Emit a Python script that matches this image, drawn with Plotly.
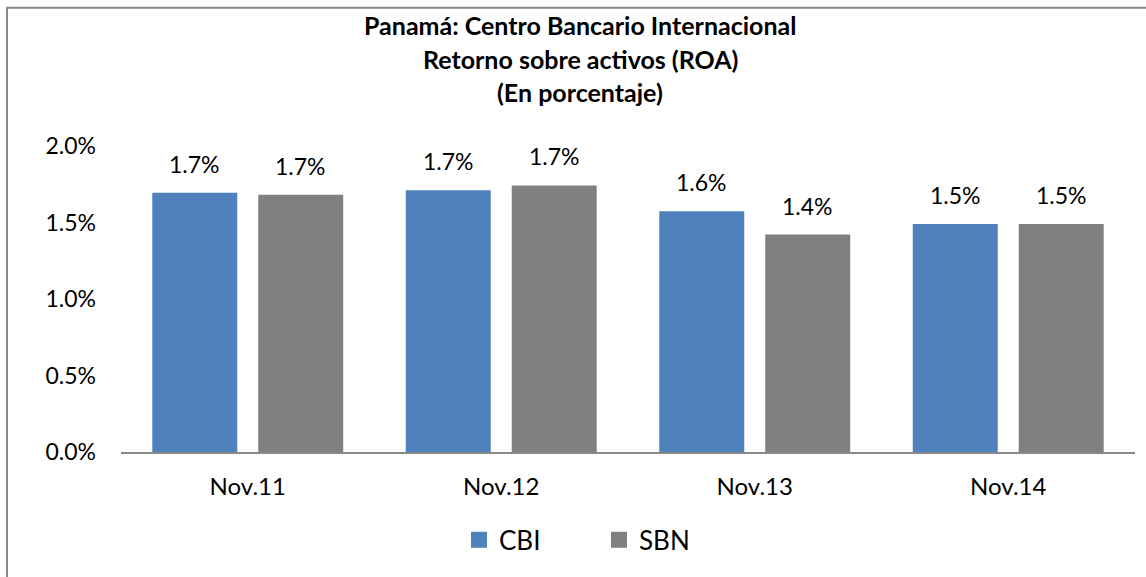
import plotly.graph_objects as go

categories = ["Nov.11", "Nov.12", "Nov.13", "Nov.14"]
cbi = [0.01695, 0.01710, 0.01574, 0.01490]
sbn = [0.01681, 0.01742, 0.01421, 0.01490]
series_names = ["CBI", "SBN"]
colors = ["#4F81BD", "#808080"]
y_ticks = [0, 0.005, 0.010, 0.015, 0.020]
title_lines = ["Panamá: Centro Bancario Internacional",
               "Retorno sobre activos (ROA)",
               "(En porcentaje)"]

FONT = "Lato, 'Open Sans', sans-serif"
W, H = 1146, 577
L, R, T, B = 121, 11, 145.5, 125
plot_h = H - T - B
plot_w = W - L - R


def py(p):
    """pixel row -> paper y"""
    return (H - B - p) / plot_h


def px(p):
    """pixel column -> paper x"""
    return (p - L) / plot_w


fig = go.Figure()
for name, vals, col in zip(series_names, [cbi, sbn], colors):
    fig.add_trace(go.Bar(
        x=categories, y=vals, name=name, showlegend=False,
        marker=dict(color=col, line=dict(width=0)),
    ))
# legend swatches (larger squares, as in the reference)
for name, col in zip(series_names, colors):
    fig.add_trace(go.Scatter(
        x=[None], y=[None], name=name, mode="markers",
        marker=dict(symbol="square", size=18, color=col),
    ))

annotations = []
for k, vals in enumerate([cbi, sbn]):
    shift = -53 if k == 0 else 53
    for c, v in zip(categories, vals):
        annotations.append(dict(
            x=c, y=v, xref="x", yref="y", text=f"{v*100:.1f}%",
            showarrow=False, xshift=shift, yanchor="bottom", yshift=13,
            font=dict(family=FONT, size=23, color="#000000"),
        ))

title_px = [24, 58, 91]
for line, p in zip(title_lines, title_px):
    annotations.append(dict(
        x=px(580), y=py(p),
        xref="paper", yref="paper", text=f"<b>{line}</b>",
        showarrow=False, xanchor="center", yanchor="middle",
        font=dict(family=FONT, size=25, color="#000000"),
    ))

fig.update_layout(
    width=W, height=H,
    margin=dict(l=L, r=R, t=T, b=B, autoexpand=False),
    paper_bgcolor="white", plot_bgcolor="white",
    barmode="group", bargap=0.164, bargroupgap=0.198,
    font=dict(family=FONT, size=23, color="#000000"),
    showlegend=True,
    legend=dict(orientation="h", xanchor="center", yanchor="middle",
                x=px(599), y=py(540), itemsizing="trace",
                font=dict(family=FONT, size=26, color="#000000"),
                entrywidth=95, entrywidthmode="pixels",
                bgcolor="rgba(0,0,0,0)"),
    annotations=annotations,
    shapes=[dict(type="rect", xref="paper", yref="paper",
                 x0=px(7), x1=px(W + 20),
                 y0=py(H + 20), y1=py(7),
                 line=dict(color="#888888", width=2), layer="below")],
)

fig.update_xaxes(
    showline=True, linecolor="#888888", linewidth=2,
    showgrid=False, ticks="", ticklabelstandoff=12,
    tickfont=dict(family=FONT, size=24, color="#000000"),
)
fig.update_yaxes(
    range=[0, 0.02], tickvals=y_ticks, tickformat=".1%",
    showline=False, showgrid=False, zeroline=False, ticks="",
    ticklabelstandoff=24,
    tickfont=dict(family=FONT, size=23, color="#000000"),
)

fig.write_html("out.html", config={"displayModeBar": False},
               post_script="document.body.style.margin='0px';")
